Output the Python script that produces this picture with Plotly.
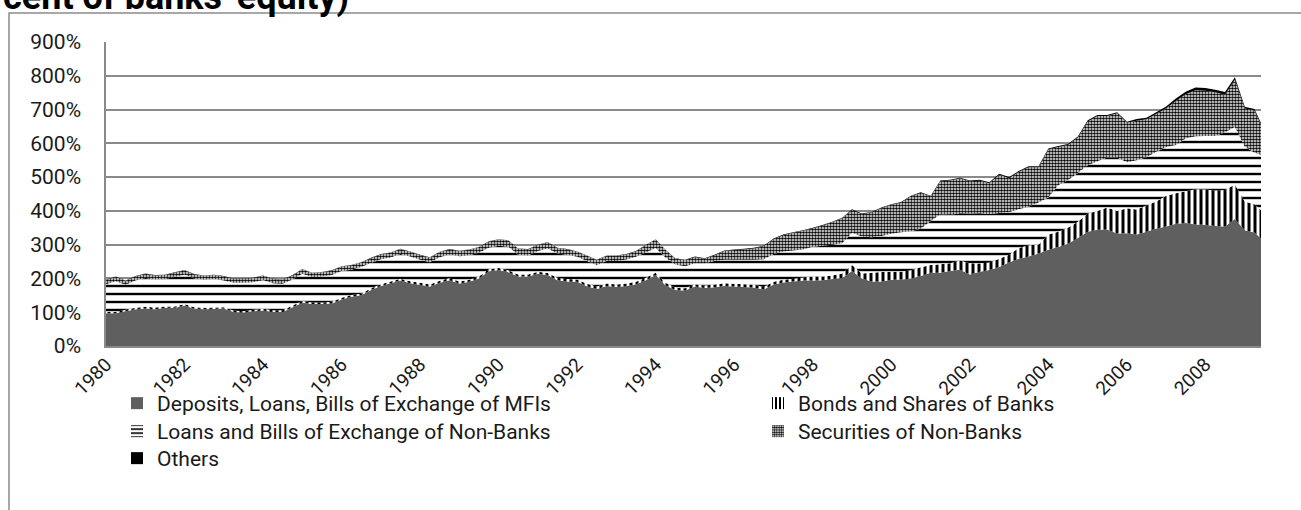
import pandas as pd
import plotly.graph_objects as go

# Quarterly observations (Jan 1980 ... Apr 2009) plus the last month shown (Jun 2009)
dates = [d.strftime("%Y-%m-%d") for d in pd.date_range("1980-01-01", "2009-04-01", freq="QS-JAN")] + ["2009-06-01"]

deposits_mfi = [
    97, 97, 103, 109, 111, 109, 113, 113, 119, 111, 109, 110, 111, 101, 99, 103, 105, 101, 101, 115,
    128, 124, 124, 126, 138, 146, 150, 166, 178, 186, 194,
    186, 181, 176, 187, 195, 185, 190, 200, 221, 225, 218, 206, 206, 214, 210, 195, 191, 190, 177,
    169, 178, 175, 178, 183, 195, 210, 180, 166, 164,
    176, 172, 174, 178, 176, 175, 173, 167, 182, 188, 191, 194, 194, 195, 198, 201, 222, 200, 191,
    191, 196, 197, 200, 207, 217, 217, 222, 226, 212,
    220, 225, 234, 248, 258, 265, 274, 285, 293, 303, 320, 338, 344, 345, 333, 334, 330, 338, 348,
    354, 362, 364, 360, 359, 355, 354, 376, 343, 336,
    319,
]

bonds_banks = [
    4, 4, 4, 4, 5, 5, 4, 4, 5, 4, 4, 4, 4, 4, 4, 4, 5, 5, 5, 5,
    5, 5, 5, 5, 5, 5, 5, 5, 5, 5, 5,
    6, 6, 6, 6, 6, 6, 6, 6, 6, 6, 6, 6, 6, 6, 6,
    7, 7, 7, 7, 7, 7, 7, 7, 7, 7, 7, 7, 7, 7,
    7, 7, 8, 8, 8, 8, 8, 8,
    8, 8, 8, 9, 12, 11, 11, 14, 18, 15,
    26, 28, 24, 23, 24, 26, 23, 25, 23, 27, 33,
    24, 22, 24, 22, 32, 33, 26, 45, 45, 47, 48, 54, 56, 65, 67, 74, 74, 78, 80, 91,
    90, 94, 104, 104, 105, 108, 102, 85, 84,
    84,
]

loans_nonbanks = [
    82, 91, 74, 81, 85, 83, 81, 87, 87, 85, 83, 84, 79, 82, 84, 82, 85, 80, 78, 77,
    81, 75, 77, 79, 79, 75, 79, 75, 74, 71, 73,
    73, 68, 66, 70, 70, 75, 73, 70, 64, 66, 70, 58, 56, 61, 73, 72, 72, 67, 68,
    63, 67, 70, 71, 74, 75, 73, 75, 68, 65,
    62, 66, 70, 69, 71, 72, 74, 82, 82, 84, 84, 83, 88, 91, 91, 89, 95, 109, 105,
    107, 112, 117, 116, 114, 130, 148, 143, 140, 147,
    149, 144, 136, 127, 115, 114, 125, 110, 138, 141, 144, 143, 147, 148, 158, 136, 146, 143, 147,
    144, 143, 156, 157, 159, 162, 171, 170, 162, 152,
    163,
]

securities_nonbanks = [
    12, 13, 12, 12, 13, 12, 12, 13, 13, 12, 12, 12, 12, 12, 12, 12, 13, 12, 12, 12,
    13, 12, 12, 13, 13, 13, 13, 14, 14, 14, 15,
    14, 14, 14, 15, 15, 15, 16, 16, 18, 18, 18, 18, 18, 18, 18,
    16, 16, 15, 15, 15, 15, 15, 15, 16, 22, 25, 22, 18, 18,
    18, 13, 16, 26, 29, 31, 34, 38, 44, 48, 52, 55, 54, 59, 66, 74, 68, 66, 73,
    82, 86, 87, 103, 106, 73, 98, 102, 103, 96,
    96, 91, 113, 100, 110, 117, 104, 142, 113, 104, 105, 130, 134, 123, 131, 117, 117, 112, 112,
    115, 130, 131, 136, 134, 129, 111, 140, 113, 125,
    89,
]

others = [
    1, 1, 1, 1, 1, 1, 1, 1, 1, 1, 1, 1, 1, 1, 1, 1, 1, 1, 1, 1,
    1, 1, 1, 1, 1, 1, 1, 1, 1, 1, 1, 1, 1, 1, 1, 1, 1, 1, 1, 1,
    1, 1, 1, 1, 1, 1, 1, 1, 1, 1, 1, 1, 1, 1, 1, 1, 1, 1, 1, 1,
    2, 2, 2, 2, 2, 2, 2, 2, 2, 2, 2, 2, 2, 2, 2, 2, 2, 2, 2,
    2, 2, 2, 2, 2, 2, 2, 2, 2, 2,
    3, 3, 3, 3, 3, 3, 3, 3, 3, 3, 3, 3, 3, 3, 3, 3,
    5, 5, 5, 5, 8, 8, 8, 8, 8, 8, 8, 5, 5,
    5,
]

series_names = [
    "Deposits, Loans, Bills of Exchange of MFIs",
    "Bonds and Shares of Banks",
    "Loans and Bills of Exchange of Non-Banks",
    "Securities of Non-Banks",
    "Others",
]
tick_years = ["1980", "1982", "1984", "1986", "1988", "1990", "1992", "1994",
              "1996", "1998", "2000", "2002", "2004", "2006", "2008"]
y_ticks = [0, 100, 200, 300, 400, 500, 600, 700, 800, 900]

FONT = "Roboto"
TXT = "#1a1a1a"
FS = 21
W, H = 1301, 510
L, R, T, B = 106, 40, 42, 164
PW, PH = W - L - R, H - T - B


def px_x(px):
    return (px - L) / PW


def px_y(py):
    return (H - B - py) / PH


styles = [
    dict(fillcolor="#5f5f5f", pattern=None, legend_pattern=None),
    dict(fillcolor="white",
         pattern=dict(shape="|", size=6, solidity=0.5),
         legend_pattern=dict(shape="|", size=5, solidity=0.5)),
    dict(fillcolor="white",
         pattern=dict(shape="-", size=8, solidity=0.3),
         legend_pattern=dict(shape="-", size=5, solidity=0.4)),
    dict(fillcolor="white",
         pattern=dict(shape=".", size=3, solidity=0.6),
         legend_pattern=dict(shape=".", size=3, solidity=0.6)),
    dict(fillcolor="black", pattern=None, legend_pattern=None),
]
values = [deposits_mfi, bonds_banks, loans_nonbanks, securities_nonbanks, others]
legend_ids = ["legend", "legend2", "legend3", "legend4", "legend5"]

fig = go.Figure()

# stacked areas
for name, vals, st in zip(series_names, values, styles):
    kw = {}
    if st["pattern"]:
        kw["fillpattern"] = dict(fgcolor="black", bgcolor="white", fillmode="replace", **st["pattern"])
    fig.add_trace(go.Scatter(
        x=dates, y=vals, name=name, stackgroup="one", mode="none",
        fillcolor=st["fillcolor"], showlegend=False, hoverinfo="skip", **kw,
    ))

# legend swatches (small squares, as in the original); zero-height bars draw nothing on the plot
for name, st, lg in zip(series_names, styles, legend_ids):
    marker = dict(color=st["fillcolor"], line=dict(width=0))
    if st["legend_pattern"]:
        marker["pattern"] = dict(fgcolor="black", bgcolor="white", fillmode="replace", **st["legend_pattern"])
    fig.add_trace(go.Bar(x=[dates[0]], y=[0], name=name, marker=marker, legend=lg,
                         showlegend=True, hoverinfo="skip"))

col1_x, col2_x = px_x(117), px_x(758)
row_tops = [383, 411, 438]
legend_pos = {
    "legend": (col1_x, row_tops[0]),
    "legend2": (col2_x, row_tops[0]),
    "legend3": (col1_x, row_tops[1]),
    "legend4": (col2_x, row_tops[1]),
    "legend5": (col1_x, row_tops[2]),
}
legend_layout = {}
for lg, (lx, ly) in legend_pos.items():
    legend_layout[lg] = dict(
        x=lx, y=px_y(ly), xanchor="left", yanchor="top", orientation="v",
        bgcolor="rgba(0,0,0,0)", font=dict(family=FONT, size=FS, color=TXT),
        itemwidth=30, borderwidth=0, visible=True,
    )

fig.update_layout(
    width=W, height=H,
    margin=dict(l=L, r=R, t=T, b=B),
    plot_bgcolor="white", paper_bgcolor="white",
    font=dict(family=FONT, size=FS, color=TXT),
    showlegend=True,
    **legend_layout,
    xaxis=dict(
        type="date", range=[dates[0], dates[-1]],
        tickmode="array", tickvals=[y + "-01-01" for y in tick_years], ticktext=tick_years,
        tickangle=-45, showgrid=False, showline=True, linecolor="#8a8a8a", linewidth=2,
        ticks="", ticklabelstandoff=-2, tickfont=dict(family=FONT, size=19, color=TXT),
        zeroline=False, fixedrange=True,
    ),
    yaxis=dict(
        range=[0, 900], tickmode="array", tickvals=y_ticks,
        ticktext=[f"{v}%" for v in y_ticks],
        showgrid=True, gridcolor="#8a8a8a", gridwidth=1.5,
        showline=True, linecolor="#8a8a8a", linewidth=1.5,
        ticks="", ticklabelstandoff=19, zeroline=False, fixedrange=True,
        tickfont=dict(family=FONT, size=FS, color=TXT),
    ),
    shapes=[dict(
        type="rect", xref="paper", yref="paper",
        x0=px_x(9), x1=px_x(1320), y0=px_y(540), y1=px_y(13),
        line=dict(color="#8c8c8c", width=1.5), fillcolor="rgba(0,0,0,0)", layer="below",
    )],
    annotations=[dict(
        text="<b>cent of banks' equity)</b>", xref="paper", yref="paper",
        x=px_x(2), y=px_y(19), xanchor="left", yanchor="bottom",
        showarrow=False, font=dict(family=FONT, size=36, color="black"), borderpad=0,
    )],
)

fig.write_html("out.html", config={"displayModeBar": False},
               post_script="document.body.style.margin='0';")
